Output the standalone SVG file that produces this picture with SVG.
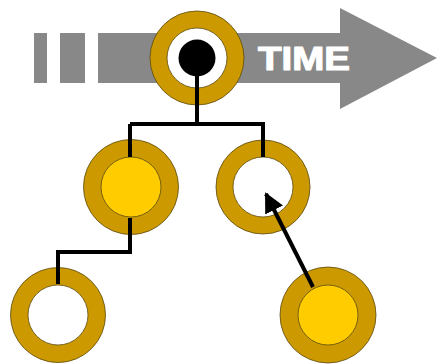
<svg xmlns="http://www.w3.org/2000/svg" width="438" height="364" viewBox="0 0 438 364">
<style>
.ring{fill:#CC9900;stroke:#5a4a10;stroke-width:0.8}
.hole{fill:#ffffff;stroke:#5a4a10;stroke-width:0.8}
.full{fill:#FFCC00;stroke:#5a4a10;stroke-width:0.8}
.wire{fill:none;stroke:#000;stroke-width:4;stroke-linejoin:miter}
</style>
<defs>
<marker id="ah" viewBox="0 0 10 10" refX="9" refY="5" markerWidth="5" markerHeight="5" orient="auto" markerUnits="strokeWidth">
<path d="M0,0 L10,5 L0,10 Z" fill="#000"/>
</marker>
</defs>
<g id="timeline">
<rect x="34" y="33" width="13" height="50" fill="#888888"/>
<rect x="60" y="33" width="25" height="50" fill="#888888"/>
<path d="M98,33 H340 V8 L437,58 L340,109 V83 H98 Z" fill="#888888"/>
<text x="258" y="70" font-family="Liberation Sans, Arial, sans-serif" font-weight="bold" font-size="34" fill="#ffffff" stroke="#ffffff" stroke-width="1.2" stroke-linejoin="round" textLength="92" lengthAdjust="spacingAndGlyphs">TIME</text>
</g>
<g id="node-top">
<circle class="ring" cx="197" cy="58" r="47"/>
<circle class="hole" cx="197" cy="58" r="30"/>
<circle cx="197" cy="58" r="18.5" fill="#000"/>
</g>
<g id="node-left">
<circle class="ring" cx="131" cy="187" r="47.5"/>
<circle class="full" cx="131" cy="187" r="30"/>
</g>
<g id="node-right">
<circle class="ring" cx="263" cy="187" r="47"/>
<circle class="hole" cx="263" cy="187" r="30"/>
</g>
<g id="node-bottom-left">
<circle class="ring" cx="58" cy="315" r="47.5"/>
<circle class="hole" cx="58" cy="315" r="30"/>
</g>
<g id="node-bottom-right">
<circle class="ring" cx="328" cy="315" r="48"/>
<circle class="full" cx="328" cy="315" r="30"/>
</g>
<g id="connectors">
<path class="wire" d="M197,58 V124 M130,124 H263 V157 M130,124 V157"/>
<path class="wire" d="M130,218 V252 H58 V284"/>
<line class="wire" x1="313" y1="287" x2="266" y2="194" marker-end="url(#ah)"/>
</g>
</svg>
